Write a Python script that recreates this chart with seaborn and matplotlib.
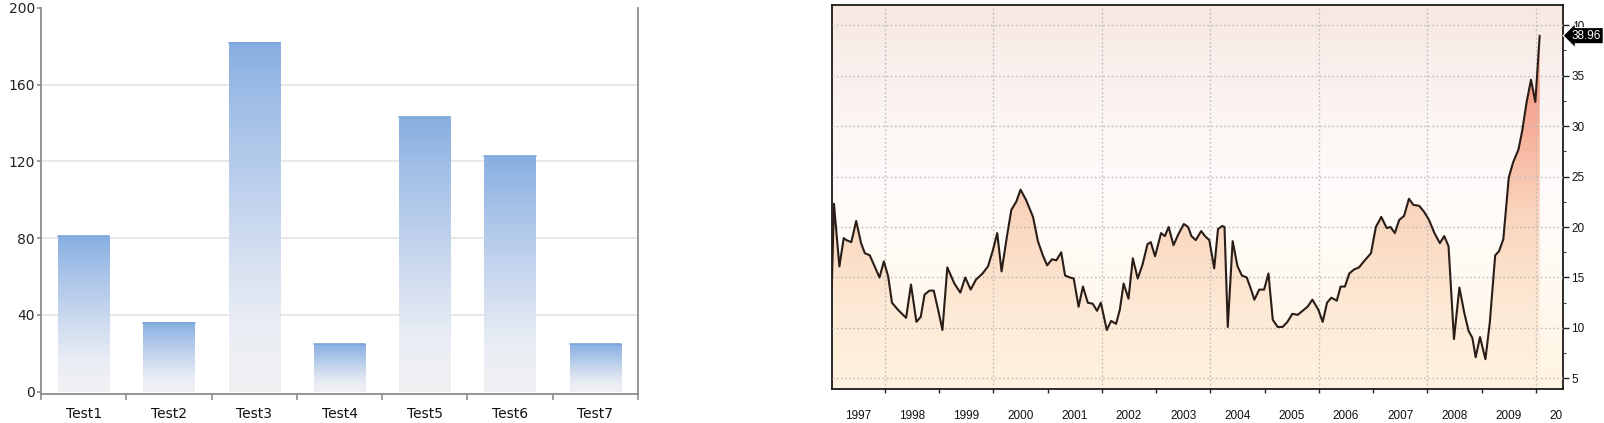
import numpy as np
import pandas as pd
import seaborn as sns
import matplotlib.pyplot as plt
import matplotlib.transforms as mtransforms
from matplotlib.colors import LinearSegmentedColormap

# left chart data
categories = ["Test1", "Test2", "Test3", "Test4", "Test5", "Test6", "Test7"]
bar_values = [81, 36, 182, 25, 143, 123, 25]
bar_ticks = [0, 40, 80, 120, 160, 200]

# right chart data (decimal years)
dates = [1997.02, 1997.06, 1997.16, 1997.24, 1997.29, 1997.38, 1997.47, 1997.56, 1997.63, 1997.72,
         1997.81, 1997.90, 1997.98, 1998.06, 1998.13, 1998.24, 1998.39, 1998.48, 1998.58, 1998.66,
         1998.73, 1998.82, 1998.90, 1998.98, 1999.06, 1999.15, 1999.28, 1999.39, 1999.48, 1999.58,
         1999.68, 1999.80, 1999.90, 1999.99, 2000.07, 2000.15, 2000.25, 2000.33, 2000.42, 2000.50,
         2000.60, 2000.73, 2000.82, 2000.91, 2000.99, 2001.08, 2001.16, 2001.25, 2001.32, 2001.41,
         2001.48, 2001.57, 2001.65, 2001.74, 2001.83, 2001.91, 2001.98, 2002.09, 2002.17, 2002.26,
         2002.33, 2002.40, 2002.49, 2002.57, 2002.66, 2002.75, 2002.84, 2002.90, 2002.98, 2003.09,
         2003.16, 2003.23, 2003.32, 2003.41, 2003.51, 2003.59, 2003.65, 2003.73, 2003.83, 2003.90,
         2003.98, 2004.07, 2004.14, 2004.22, 2004.26, 2004.32, 2004.41, 2004.50, 2004.58, 2004.67,
         2004.75, 2004.81, 2004.90, 2004.99, 2005.07, 2005.15, 2005.24, 2005.33, 2005.42, 2005.51,
         2005.61, 2005.70, 2005.79, 2005.88, 2005.99, 2006.07, 2006.15, 2006.23, 2006.33, 2006.40,
         2006.48, 2006.56, 2006.65, 2006.74, 2006.83, 2006.96, 2007.05, 2007.15, 2007.25, 2007.32,
         2007.40, 2007.48, 2007.57, 2007.66, 2007.74, 2007.85, 2007.94, 2008.03, 2008.13, 2008.23,
         2008.31, 2008.39, 2008.49, 2008.59, 2008.68, 2008.76, 2008.83, 2008.89, 2008.97, 2009.07,
         2009.15, 2009.25, 2009.32, 2009.40, 2009.50, 2009.58, 2009.68, 2009.75, 2009.83, 2009.91,
         2009.99, 2010.07]
values = [14.0, 22.3, 16.1, 18.9, 18.7, 18.5, 20.6, 18.4, 17.4, 17.2,
          16.1, 15.0, 16.6, 15.1, 12.5, 11.8, 11.0, 14.3, 10.6, 11.1,
          13.3, 13.7, 13.7, 11.8, 9.8, 16.0, 14.4, 13.5, 15.0, 13.8,
          14.8, 15.4, 16.1, 17.7, 19.4, 15.6, 19.1, 21.7, 22.5, 23.7,
          22.7, 21.0, 18.6, 17.2, 16.2, 16.8, 16.7, 17.5, 15.2, 15.0,
          14.9, 12.1, 14.1, 12.5, 12.4, 11.7, 12.5, 9.8, 10.7, 10.4,
          11.8, 14.4, 12.9, 16.9, 14.9, 16.3, 18.3, 18.5, 17.1, 19.4,
          19.1, 20.0, 18.2, 19.3, 20.3, 20.0, 19.1, 18.7, 19.6, 19.1,
          18.7, 15.9, 19.8, 20.1, 20.0, 10.1, 18.6, 16.1, 15.2, 15.0,
          13.8, 12.8, 13.8, 13.8, 15.4, 10.8, 10.1, 10.1, 10.6, 11.4,
          11.3, 11.7, 12.1, 12.8, 11.8, 10.6, 12.5, 13.0, 12.7, 14.1,
          14.1, 15.4, 15.8, 16.0, 16.6, 17.4, 20.0, 21.0, 19.9, 20.0,
          19.4, 20.7, 21.1, 22.8, 22.2, 22.1, 21.5, 20.7, 19.4, 18.4,
          19.1, 18.1, 8.9, 14.0, 11.5, 9.7, 9.0, 7.1, 9.1, 6.9,
          10.5, 17.2, 17.6, 18.8, 24.9, 26.4, 27.7, 29.6, 32.4, 34.6,
          32.4, 38.96]
last_label = "38.96"
years = list(range(1997, 2011))
year_labels = [str(y) for y in range(1997, 2010)] + ["20"]
right_ticks = [5, 10, 15, 20, 25, 30, 35, 40]

sns.set_style("white")
plt.rcParams['font.family'] = ['DejaVu Sans']

fig = plt.figure(figsize=(16.04, 4.23), dpi=100)
W, H = 1604, 423
ax1 = fig.add_axes([41 / W, 29 / H, 597 / W, 386 / H])
ax2 = fig.add_axes([832 / W, 34 / H, 731 / W, 384 / H])

# ---- left: gradient bars
df = pd.DataFrame({"test": categories, "value": bar_values})
sns.barplot(data=df, x="test", y="value", width=0.6, color="#8DB3E2", ax=ax1, zorder=2)

bar_cmap = LinearSegmentedColormap.from_list(
    "bar", [(0, "#F1F1F3"), (0.2, "#E9EDF4"), (0.5, "#C8D7EE"), (0.8, "#A3C0E7"), (1, "#88AFE1")])
grad = np.linspace(0, 1, 256).reshape(-1, 1)
for p in list(ax1.patches):
    x0, y0, w, h = p.get_x(), p.get_y(), p.get_width(), p.get_height()
    ax1.imshow(grad, extent=[x0, x0 + w, y0, y0 + h], origin="lower", aspect="auto",
               cmap=bar_cmap, zorder=2)
    p.set_facecolor("none")
    p.set_edgecolor("none")
    ax1.plot([x0, x0 + w], [y0 + h, y0 + h], color="#7EA5D9", lw=1.2, zorder=3)

ax1.set_xlim(-0.5, 6.5)
ax1.set_ylim(-1.2, 200)
ax1.set_xlabel("")
ax1.set_ylabel("")
ax1.set_yticks(bar_ticks, labels=[str(t) for t in bar_ticks], fontsize=10, color="#222222")
ax1.yaxis.grid(True, color="#E4E4E4", lw=1.2)
gl = ax1.get_ygridlines()
gl[0].set_visible(False)
gl[-1].set_visible(False)
ax1.set_axisbelow(True)
ax1.set_xticks(np.arange(-0.5, 7.0, 1.0), labels=[""] * 8)
ax1.set_xticks(np.arange(7), labels=categories, minor=True, fontsize=10, color="#111111")
ax1.tick_params(axis="x", which="major", bottom=True, length=4, width=1.2, color="#8C8C8C")
ax1.tick_params(axis="x", which="minor", bottom=True, length=0, pad=9)
ax1.tick_params(axis="y", left=True, length=3, width=1.2, color="#8C8C8C", pad=1.5)
for s in ["left", "bottom", "right"]:
    ax1.spines[s].set_visible(True)
    ax1.spines[s].set_color("#8C8C8C")
    ax1.spines[s].set_linewidth(1.3)
ax1.spines["top"].set_visible(False)

# ---- right: area line chart
x0, x1 = 1997.024, 2010.49
y0, y1 = 3.95, 42.0
bg_cmap = LinearSegmentedColormap.from_list(
    "bg", [(0, "#FFF4E2"), (0.3, "#FFFAF3"), (0.55, "#FEFBFA"), (0.8, "#FAF1EE"), (1, "#F7E8E2")])
ax2.imshow(grad, extent=[x0, x1, y0, y1], origin="lower", aspect="auto", cmap=bg_cmap, zorder=0)

fill_cmap = LinearSegmentedColormap.from_list(
    "fill", [(0, "#FFF3DF"), (0.2, "#FDEAD6"), (0.45, "#FAD6BE"), (0.7, "#F7AC97"), (1, "#F38472")])
poly = ax2.fill_between(dates, values, y0, facecolor="none", lw=0)
im = ax2.imshow(grad, extent=[x0, x1, y0, y1], origin="lower", aspect="auto", cmap=fill_cmap, zorder=1)
im.set_clip_path(poly.get_paths()[0], ax2.transData)

sns.lineplot(x=dates, y=values, ax=ax2, color="#2A1C16", lw=1.5, zorder=4)

ax2.set_xlim(x0, x1)
ax2.set_ylim(y0, y1)
for yr in years[1::2]:
    ax2.axvline(yr, color="#BDBDBD", lw=1.0, ls=(0, (1.2, 1.8)), zorder=2)
ax2.set_xticks(years[1:], labels=[""] * len(years[1:]))
ax2.set_xticks([y + 0.5 for y in years], labels=year_labels, minor=True,
               fontfamily="Liberation Sans", fontsize=8.5, color="#111111")
ax2.get_xticklabels(minor=True)[-1].set_ha("right")
ax2.tick_params(axis="x", which="major", bottom=True, length=3, width=1, color="#222222")
ax2.tick_params(axis="x", which="minor", bottom=True, length=0, pad=15)

ax2.yaxis.tick_right()
ax2.set_yticks(right_ticks, labels=[str(t) for t in right_ticks],
               fontfamily="Liberation Sans", fontsize=8.5, color="#111111")
ax2.set_yticks([t + 2.5 for t in right_ticks[:-1]], minor=True)
ax2.tick_params(axis="y", which="major", right=True, left=False, length=4, width=1, color="#222222", pad=2)
ax2.tick_params(axis="y", which="minor", right=True, left=False, length=2, width=0.8, color="#444444")
ax2.yaxis.grid(True, which="major", color="#BDBDBD", lw=1.0, ls=(0, (1.2, 1.8)))
ax2.set_axisbelow(False)
for s in ax2.spines.values():
    s.set_visible(True)
    s.set_color("#1A1A1A")
    s.set_linewidth(1.3)

trans = mtransforms.blended_transform_factory(ax2.transAxes, ax2.transData)
ax2.text(1.012, values[-1], last_label, transform=trans, ha="left", va="center",
         color="white", fontsize=8.5, fontfamily="Liberation Sans", zorder=6, clip_on=False,
         bbox=dict(boxstyle="larrow,pad=0.18", fc="black", ec="white", lw=0.8))

fig.savefig("out.png", dpi=100)
